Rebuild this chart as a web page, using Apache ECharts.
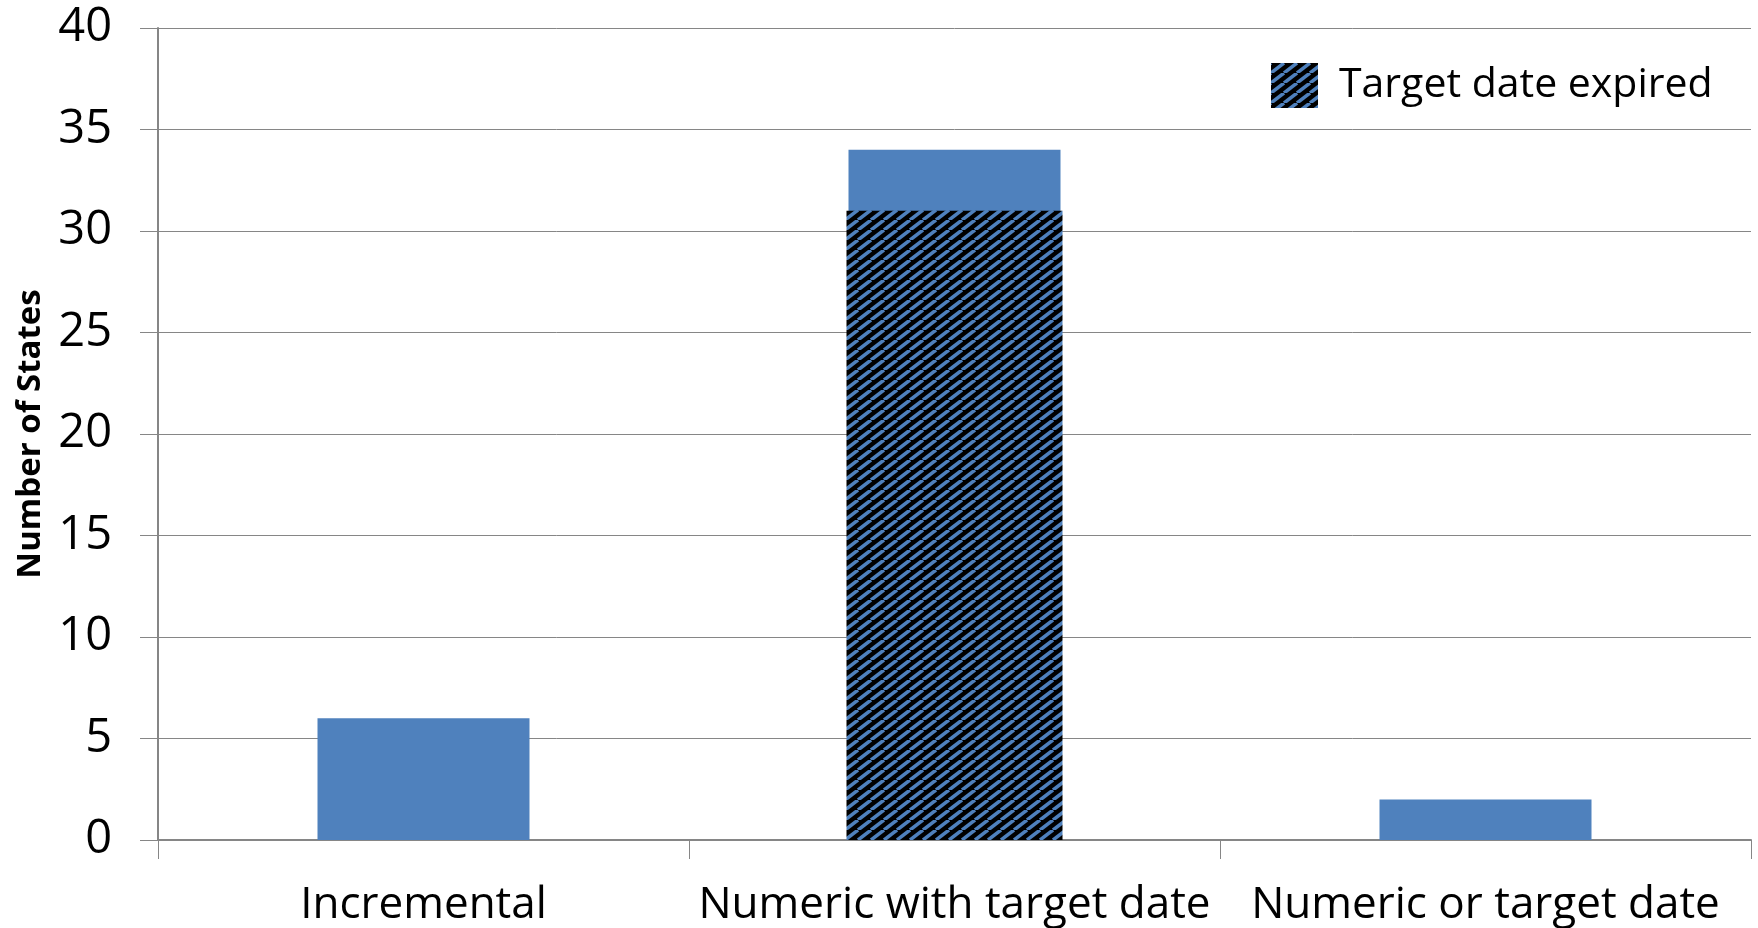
<!DOCTYPE html>
<html>
<head>
<meta charset="utf-8">
<title>Number of States</title>
<script src="https://cdn.jsdelivr.net/npm/echarts@6/dist/echarts.min.js"></script>
<style>
  html, body { margin: 0; padding: 0; background: #fff; }
  #chart { width: 1758px; height: 928px; }
</style>
</head>
<body>
<div id="chart"></div>
<script>
// data
var categories = ['Incremental', 'Numeric with target date', 'Numeric or target date'];
var totalStates = [6, 34, 2];
var expiredStates = [null, 31, null];
var yTicks = { min: 0, max: 40, step: 5 };

// hatch: black with blue upward diagonals
function hatch() {
  var w = 13, h = 10;
  var c = document.createElement('canvas');
  c.width = w; c.height = h;
  var ctx = c.getContext('2d');
  ctx.fillStyle = '#000';
  ctx.fillRect(0, 0, w, h);
  ctx.strokeStyle = '#4f81bd';
  ctx.lineWidth = 3.5;
  for (var k = -1; k <= 1; k++) {
    ctx.beginPath();
    ctx.moveTo(k * w, h);
    ctx.lineTo(k * w + w, 0);
    ctx.stroke();
  }
  return c;
}

var font = '"Open Sans", "DejaVu Sans", sans-serif';
var grey = '#868686';
var chart = echarts.init(document.getElementById('chart'));
chart.setOption({
  animation: false,
  backgroundColor: '#fff',
  grid: { left: 158, right: 7, top: 28, bottom: 88, outerBoundsMode: 'none' },
  legend: {
    data: ['Target date expired'],
    left: 1266, top: 58,
    icon: 'rect',
    itemWidth: 47, itemHeight: 45,
    textStyle: { fontFamily: font, fontSize: 41, color: '#000', padding: [0, 0, 0, 16] }
  },
  xAxis: [{
    type: 'category',
    data: categories,
    axisLine: { lineStyle: { color: grey, width: 2 } },
    axisTick: { show: true, length: 19, lineStyle: { color: grey, width: 1 } },
    axisLabel: { fontFamily: font, fontSize: 44, color: '#000', margin: 43, interval: 0 }
  }, {
    type: 'category',
    data: categories,
    show: false
  }],
  yAxis: {
    type: 'value',
    min: yTicks.min, max: yTicks.max, interval: yTicks.step,
    name: 'Number of States',
    nameLocation: 'middle',
    nameRotate: 90,
    nameGap: 111,
    nameTextStyle: { fontFamily: font, fontSize: 33, fontWeight: 'bold', color: '#000' },
    axisLine: { show: true, lineStyle: { color: grey, width: 2 } },
    axisTick: { show: true, length: 18, lineStyle: { color: grey } },
    splitLine: { lineStyle: { color: grey, width: 1 } },
    axisLabel: { fontFamily: font, fontSize: 47, color: '#000', margin: 46 }
  },
  series: [{
    name: 'All states',
    type: 'bar',
    data: totalStates,
    barWidth: 212,
    itemStyle: { color: '#4f81bd' }
  }, {
    name: 'Target date expired',
    type: 'bar',
    xAxisIndex: 1,
    data: expiredStates,
    barWidth: 216,
    z: 3,
    itemStyle: { color: { image: hatch(), repeat: 'repeat' } }
  }]
});
</script>
</body>
</html>
